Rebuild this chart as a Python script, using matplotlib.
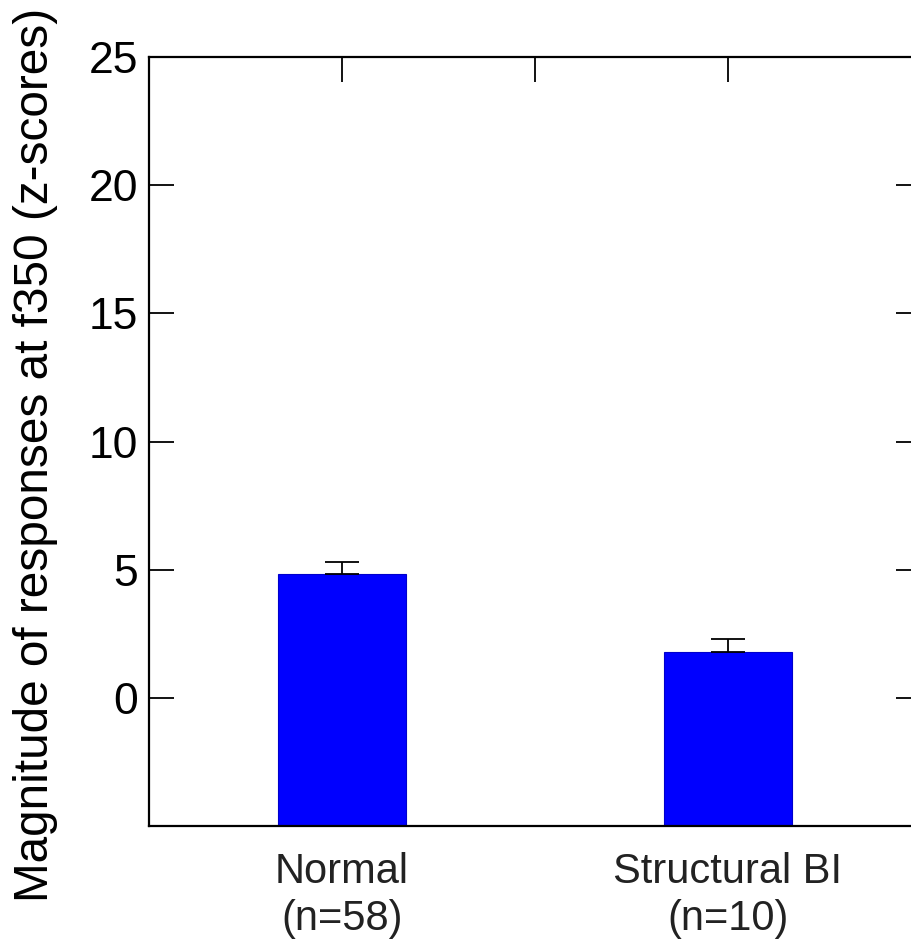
import matplotlib
matplotlib.use("Agg")
import matplotlib.pyplot as plt

# Group means and upper standard errors (z-scores)
groups = ["Normal\n(n=58)", "Structural BI\n(n=10)"]
positions = [1, 3]
means = [4.83, 1.79]
errors = [0.45, 0.50]

yticks = [0, 5, 10, 15, 20, 25]
xticks = [1, 2, 3]
xticklabels = [groups[0], "", groups[1]]

plt.rcParams["font.family"] = ["Liberation Sans", "DejaVu Sans"]

fig = plt.figure(figsize=(9.12, 9.41), dpi=100)
ax = fig.add_axes([149 / 912, 1 - 826 / 941, 4 * 193 / 912, (826 - 57) / 941])

baseline = -5
heights = [m - baseline for m in means]
ax.bar(positions, heights, bottom=baseline, width=0.667,
       color="#0000ff", edgecolor="#0000cc", linewidth=0.8, zorder=2)
ax.errorbar(positions, means, yerr=[[0] * len(errors), errors], fmt="none",
            ecolor="black", elinewidth=1.3, capsize=12, capthick=1.3, zorder=3)

ax.set_xlim(0, 4)
ax.set_ylim(-5, 25)
ax.set_yticks(yticks)
ax.set_yticklabels([str(v) for v in yticks], fontsize=32)
ax.set_xticks(xticks)
ax.set_xticklabels(xticklabels, fontsize=30, color="#222222", linespacing=1.2)

ax.tick_params(axis="y", direction="in", length=18, width=1.3,
               left=True, right=True, pad=8)
ax.tick_params(axis="x", direction="in", length=18, width=1.3,
               bottom=False, top=True, labelbottom=True, pad=19)

for s in ax.spines.values():
    s.set_linewidth(1.6)

fig.text(36 / 912, 1 - 455 / 941, "Magnitude of responses at f350 (z-scores)",
         rotation=90, ha="center", va="center", fontsize=34.4)

fig.savefig("out.png", dpi=100)
